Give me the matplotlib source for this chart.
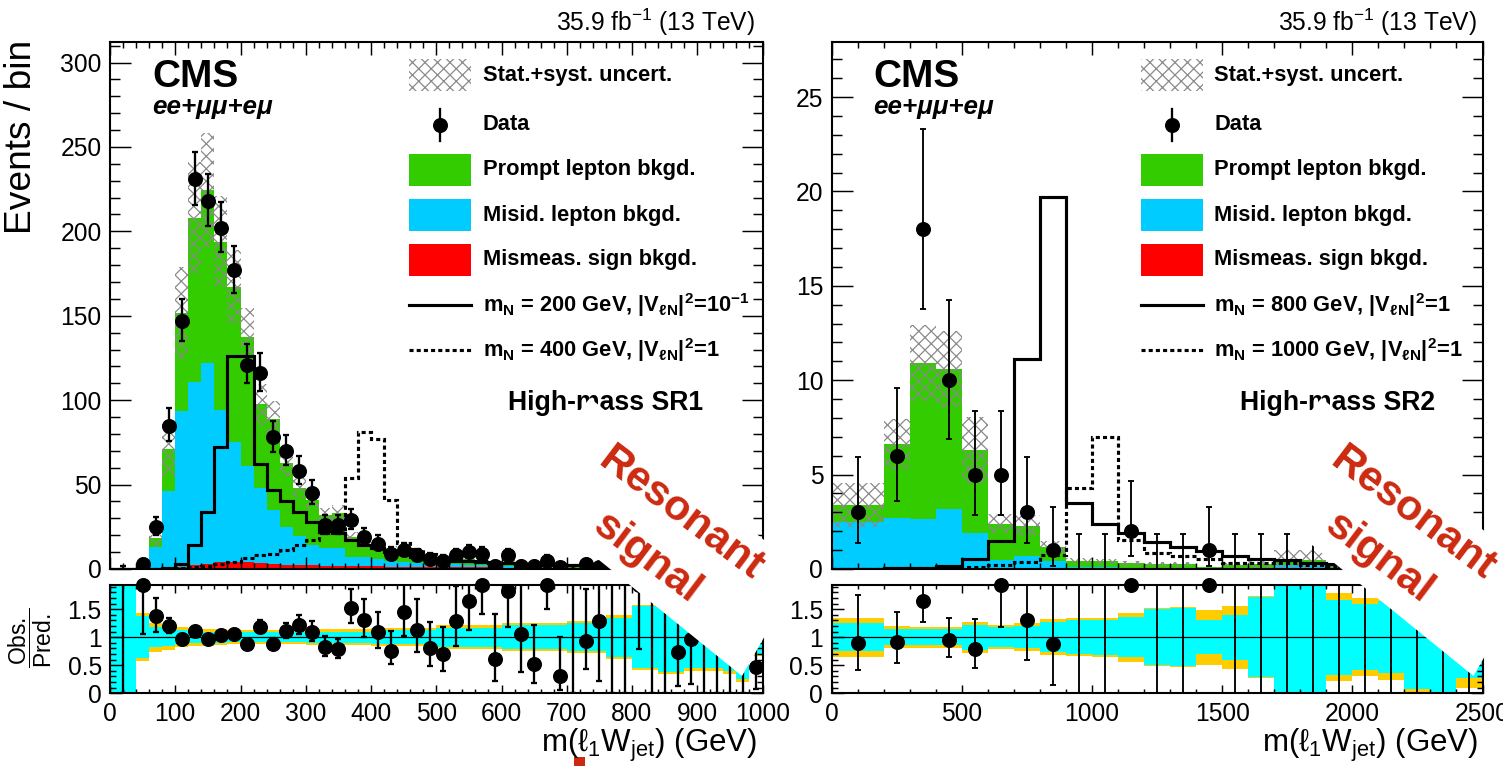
import numpy as np
import matplotlib
matplotlib.use("Agg")
import matplotlib.pyplot as plt
from matplotlib.patches import Rectangle, Polygon
from matplotlib.lines import Line2D
from matplotlib.ticker import MultipleLocator, FuncFormatter

plt.rcParams['font.family'] = ['Liberation Sans', 'DejaVu Sans']
plt.rcParams['mathtext.fontset'] = 'custom'
plt.rcParams['mathtext.rm'] = 'Liberation Sans'
plt.rcParams['mathtext.bf'] = 'Liberation Sans:bold'
plt.rcParams['mathtext.it'] = 'Liberation Sans:italic'
plt.rcParams['mathtext.default'] = 'bf'
plt.rcParams['hatch.linewidth'] = 0.6

# ---------------- high-mass SR1 (left) ----------------
edges_L = [0] + list(range(40, 1001, 20))
data_L = [0, 3, 25, 85, 147, 231, 218, 202, 177, 121, 116, 78, 70, 58, 45, 26, 26, 29, 19, 15,
          9, 11, 8, 6, 5, 8, 10, 9, 2, 8, 2, 2, 5, 1, 0, 3, 1, 0, 0, 2,
          0, 0, 1, 1, 0, 0, 0, 0, 1]
data_dn_L = [0, 1.63, 4.97, 9.21, 12.12, 15.19, 14.76, 14.21, 13.30, 10.99, 10.76, 8.82, 8.35, 7.60, 6.69,
             5.07, 5.07, 5.35, 4.33, 3.85, 2.94, 3.27, 2.77, 2.38, 2.16, 2.77, 3.11, 2.94, 1.29, 2.77,
             1.29, 1.29, 2.16, 0.83, 0, 1.63, 0.83, 0, 0, 1.29, 0, 0, 0.83, 0.83, 0, 0, 0, 0, 0.83]
data_up_L = [1.84, 2.92, 6.06, 10.27, 13.17, 16.24, 15.81, 15.26, 14.35, 12.05, 11.82, 9.88, 9.41, 8.66, 7.76,
             6.16, 6.16, 6.44, 5.41, 4.96, 4.11, 4.42, 3.95, 3.58, 3.38, 3.95, 4.26, 4.11, 2.64, 3.95,
             2.64, 2.64, 3.38, 2.30, 1.84, 2.92, 2.30, 1.84, 1.84, 2.64, 1.84, 1.84, 2.30, 2.30,
             1.84, 1.84, 1.84, 1.84, 2.30]
prompt_L = [0.03, 0.7, 5.3, 24.8, 58.0, 97.0, 102.7, 100.0, 92.0, 76.5, 49.5, 53.6, 38.0, 28.6, 26.7,
            19.4, 20.3, 11.8, 7.6, 7.8, 6.8, 3.6, 3.6, 4.3, 4.1, 3.45, 3.5, 2.1, 1.5, 2.4,
            0.9, 2.0, 0.9, 1.8, 0.4, 1.7, 0.38, 0.4, 0.4, 0.4, 0.4, 0.4, 0.75, 0.53, 0.4, 0.4, 0.4, 0.4, 1.17]
misid_L = [0.02, 0.55, 12.5, 45.2, 92.2, 108.8, 118.8, 90.0, 70.8, 57.0, 44.4, 32.0, 22.4, 17.0, 12.1,
           10.3, 10.8, 5.5, 5.4, 4.5, 3.6, 2.7, 2.3, 2.1, 2.0, 1.8, 1.7, 1.3, 1.0, 1.2,
           0.5, 1.1, 0.5, 0.9, 0.3, 0.9, 0.2, 0.3, 0.3, 0.3, 0.3, 0.3, 0.3, 0.3, 0.3, 0.3, 0.3, 0.3, 0.6]
mismeas_L = [0, 0.05, 0.4, 0.8, 1.3, 2.2, 3.2, 4.0, 4.2, 4.0, 3.6, 3.0, 2.6, 2.4, 2.2,
             2.0, 1.9, 1.7, 1.6, 1.5, 1.4, 1.3, 1.2, 1.1, 1.0, 1.0, 0.9, 0.9, 0.8, 0.8,
             0.5, 0.7, 0.5, 0.6, 0.2, 0.6, 0.2, 0.2, 0.2, 0.2, 0.2, 0.2, 0.3, 0.2, 0.2, 0.2, 0.2, 0.2, 0.4]
stat_L = [1.0, 0.375, 0.18, 0.16, 0.13, 0.11, 0.10, 0.095, 0.09, 0.085, 0.085, 0.085, 0.085, 0.085, 0.1,
          0.1, 0.1, 0.1, 0.1, 0.12, 0.12, 0.12, 0.12, 0.12, 0.17, 0.17, 0.17, 0.17, 0.17, 0.21,
          0.21, 0.21, 0.21, 0.21, 0.25, 0.25, 0.25, 0.35, 0.35, 0.55, 0.55, 0.62, 0.62, 0.55, 0.55,
          0.55, 0.6, 0.75, 0.3]
tot_L = [1.0, 0.425, 0.26, 0.22, 0.18, 0.16, 0.15, 0.14, 0.13, 0.125, 0.125, 0.125, 0.125, 0.125, 0.14,
         0.14, 0.14, 0.14, 0.14, 0.16, 0.16, 0.16, 0.16, 0.16, 0.21, 0.21, 0.21, 0.21, 0.21, 0.25,
         0.25, 0.25, 0.25, 0.25, 0.29, 0.29, 0.29, 0.39, 0.39, 0.58, 0.58, 0.66, 0.66, 0.6, 0.6,
         0.6, 0.65, 0.8, 0.34]
sig200_L = [0, 0, 0, 0.5, 3, 14, 34, 72, 126, 126, 62, 47, 40, 34, 27.6, 22.5, 21.5, 17, 14.3, 12.3,
            10, 8.6, 7, 6, 5.5, 5, 4.5, 4, 3.7, 3.4, 3.1, 2.9, 2.7, 2.5, 2.3, 2.1, 2.0, 1.9, 1.8, 1.7,
            1.6, 1.5, 1.4, 1.3, 1.2, 1.1, 1.0, 1.0, 0.9]
sig400_L = [0, 0, 0, 0, 0.5, 1, 2, 3, 4, 6.7, 8, 9, 11, 14, 17, 21.5, 22, 54, 81, 77,
            41, 15.3, 12, 9, 7, 6, 5, 4.5, 4, 3.5, 3.2, 3, 2.7, 2.5, 2.3, 2.1, 2, 1.9, 1.8, 1.7,
            1.6, 1.5, 1.4, 1.3, 1.2, 1.1, 1.0, 1.0, 0.9]

# ---------------- high-mass SR2 (right) ----------------
edges_R = [0] + list(range(200, 2501, 100))
data_R = [3, 6, 18, 10, 5, 5, 3, 1, 0, 0, 2, 0, 0, 1, 0, 0, 0, 0, 0, 0, 0, 0, 0, 0]
data_dn_R = [1.63, 2.38, 4.22, 3.11, 2.16, 2.16, 1.63, 0.83, 0, 0, 1.29, 0, 0, 0.83,
             0, 0, 0, 0, 0, 0, 0, 0, 0, 0]
data_up_R = [2.92, 3.58, 5.30, 4.26, 3.38, 3.38, 2.92, 2.30, 1.84, 1.84, 2.64, 1.84, 1.84, 2.30,
             1.84, 1.84, 1.84, 1.84, 1.84, 1.84, 1.84, 1.84, 1.84, 1.84]
prompt_R = [0.87, 3.9, 8.25, 7.4, 4.4, 1.9, 1.6, 0.74, 0.35, 0.3, 0.25, 0.2, 0.2, 0.05, 0.15, 0.2,
            0.3, 0.3, 0.15, 0.12, 0.12, 0.08, 0.08, 0.08]
misid_R = [2.45, 2.65, 2.6, 3.15, 1.85, 0.47, 0.67, 0.38, 0.08, 0.08, 0.03, 0.04, 0.04, 0.02, 0.04, 0.04,
           0.19, 0.19, 0.04, 0.02, 0.02, 0.01, 0.01, 0.01]
mismeas_R = [0.05, 0.05, 0.05, 0.05, 0.05, 0.03, 0.03, 0.02, 0.02, 0.02, 0.02, 0.01, 0.01, 0.01, 0.01,
             0.01, 0.01, 0.01, 0.01, 0.01, 0.01, 0.01, 0.01, 0.01]
stat_R = [0.245, 0.14, 0.145, 0.145, 0.225, 0.18, 0.2, 0.27, 0.3, 0.31, 0.36, 0.5, 0.52, 0.3, 0.4, 0.71,
          1.0, 1.0, 0.67, 0.59, 0.64, 0.93, 1.0, 0.73]
tot_R = [0.345, 0.2, 0.185, 0.19, 0.275, 0.215, 0.245, 0.32, 0.335, 0.345, 0.435, 0.52, 0.54, 0.49, 0.56,
         0.73, 1.0, 1.0, 0.78, 0.7, 0.76, 1.0, 1.0, 0.91]
sig800_R = [0.02, 0.03, 0.05, 0.15, 0.55, 1.5, 11.1, 19.7, 3.5, 2.4, 1.93, 1.45, 1.18, 0.96, 0.69, 0.51,
            0.46, 0.34, 0.25, 0.15, 0.1, 0.06, 0.04, 0.03]
sig1000_R = [0.01, 0.03, 0.05, 0.1, 0.12, 0.2, 0.37, 0.74, 4.3, 7.0, 1.55, 0.87, 0.69, 0.51, 0.34, 0.3,
             0.3, 0.2, 0.15, 0.1, 0.08, 0.06, 0.05, 0.04]

W, H = 1503, 771
DPI = 150
fig = plt.figure(figsize=(W / DPI, H / DPI), dpi=DPI)

def fx(px):
    return px / W

def fy(py):
    return 1 - py / H

GREEN, CYAN, RED = '#33cc00', '#00ccff', '#ff0000'
BAND_C, BAND_Y = '#00ffff', '#ffcc00'
HATCH = 'xxxx'
RMAX = 1.93


def step_band(ax, edges, lo, hi, **kw):
    lo = np.append(lo, lo[-1])
    hi = np.append(hi, hi[-1])
    ax.fill_between(edges, lo, hi, step='post', **kw)


def style_axis(ax, xmaj, xmin, ymaj, ymin, ylen, xlen):
    ax.xaxis.set_major_locator(MultipleLocator(xmaj))
    ax.xaxis.set_minor_locator(MultipleLocator(xmin))
    ax.yaxis.set_major_locator(MultipleLocator(ymaj))
    ax.yaxis.set_minor_locator(MultipleLocator(ymin))
    ax.tick_params(which='both', direction='in', top=True, right=True, labelsize=11.8, pad=4, width=0.7)
    ax.tick_params(axis='y', which='major', length=ylen)
    ax.tick_params(axis='y', which='minor', length=ylen / 2)
    ax.tick_params(axis='x', which='major', length=xlen)
    ax.tick_params(axis='x', which='minor', length=xlen / 2)
    for s in ax.spines.values():
        s.set_linewidth(1.0)


def draw_panel(ax, rax, edges, prompt, misid, mismeas, stat, tot, data, dn, up, sig_a, sig_b,
               xmax, ymax, ymaj, ymin, xmaj, xmin, elw):
    edges = np.array(edges, float)
    cen = 0.5 * (edges[1:] + edges[:-1])
    c1 = np.array(mismeas)
    c2 = c1 + np.array(misid)
    total = c2 + np.array(prompt)
    stat = np.array(stat)
    tot = np.array(tot)
    data = np.array(data, float)
    dn = np.array(dn)
    up = np.array(up)

    ax.stairs(c1, edges, fill=True, color=RED, lw=0)
    ax.stairs(c2, edges, baseline=c1, fill=True, color=CYAN, lw=0)
    ax.stairs(total, edges, baseline=c2, fill=True, color=GREEN, lw=0)
    step_band(ax, edges, np.clip(total * (1 - tot), 0, None), total * (1 + tot),
              facecolor='none', edgecolor='#8a8a8a', hatch=HATCH, linewidth=0)
    ax.stairs(sig_a, edges, color='k', lw=1.5)
    ax.stairs(sig_b, edges, color='k', lw=1.5, linestyle=(0, (1.3, 1.0)))
    ax.errorbar(cen, data, yerr=[dn, up], fmt='none', ecolor='k', elinewidth=elw, capsize=1.5,
                capthick=elw)
    m = data > 0
    ax.plot(cen[m], data[m], 'o', color='k', ms=6.2)
    ax.set_xlim(0, xmax)
    ax.set_ylim(0, ymax)
    style_axis(ax, xmaj, xmin, ymaj, ymin, 10, 6)
    ax.tick_params(labelbottom=False)

    # ratio panel
    step_band(rax, edges, 1 - tot, 1 + tot, color=BAND_Y, lw=0)
    step_band(rax, edges, 1 - stat, 1 + stat, color=BAND_C, lw=0)
    rax.axhline(1, color='k', lw=0.6)
    r = data / total
    rax.errorbar(cen, r, yerr=[dn / total, up / total], fmt='none', ecolor='k', elinewidth=elw,
                 capsize=1.5, capthick=elw)
    rax.plot(cen[m], np.minimum(r[m], RMAX), 'o', color='k', ms=6.2, clip_on=False, zorder=5)
    rax.set_xlim(0, xmax)
    rax.set_ylim(0, RMAX)
    style_axis(rax, xmaj, xmin, 0.5, 0.1, 5.6, 4)
    rax.yaxis.set_major_formatter(FuncFormatter(lambda v, _: f'{v:g}'))


axL = fig.add_axes([fx(110), fy(569), fx(762.5) - fx(110), fy(42.3) - fy(569)])
rL = fig.add_axes([fx(110), fy(693.3), fx(762.5) - fx(110), fy(585) - fy(693.3)])
axR = fig.add_axes([fx(831.5), fy(569), fx(1482.5) - fx(831.5), fy(42.3) - fy(569)])
rR = fig.add_axes([fx(831.5), fy(693.3), fx(1482.5) - fx(831.5), fy(585) - fy(693.3)])

draw_panel(axL, rL, edges_L, prompt_L, misid_L, mismeas_L, stat_L, tot_L, data_L, data_dn_L, data_up_L,
           sig200_L, sig400_L, 1000, 312, 50, 10, 100, 20, 1.1)
draw_panel(axR, rR, edges_R, prompt_R, misid_R, mismeas_R, stat_R, tot_R, data_R, data_dn_R, data_up_R,
           sig800_R, sig1000_R, 2500, 27.9, 5, 1, 500, 100, 0.9)

# ---------------- texts and legends ----------------
sig_labels = [
    [r'm$_{\mathbf{N}}$ = 200 GeV, |V$_{\mathbf{ℓN}}$|$^{\mathbf{2}}$=10$^{\mathbf{-1}}$',
     r'm$_{\mathbf{N}}$ = 400 GeV, |V$_{\mathbf{ℓN}}$|$^{\mathbf{2}}$=1'],
    [r'm$_{\mathbf{N}}$ = 800 GeV, |V$_{\mathbf{ℓN}}$|$^{\mathbf{2}}$=1',
     r'm$_{\mathbf{N}}$ = 1000 GeV, |V$_{\mathbf{ℓN}}$|$^{\mathbf{2}}$=1'],
]
regions = ['High-mass SR1', 'High-mass SR2']
rows = [75, 125, 170, 215, 260, 305, 350]
# outline of the white stamp behind "Resonant signal" (pixels, left panel)
stamp_px = [(590, 398), (802, 571), (742, 676), (514, 491)]

for i, dx in enumerate([0, 721.5]):
    fig.text(fx(152 + dx), fy(87), 'CMS', fontsize=18.7, weight='bold', va='baseline')
    fig.text(fx(152 + dx), fy(114), 'ee+μμ+eμ', fontsize=12.5, weight='bold', style='italic',
             va='baseline')
    fig.text(fx(755 + dx), fy(22), r'35.9 fb$^{\mathrm{-1}}$ (13 TeV)', fontsize=11.8,
             ha='right', va='center')
    fig.text(fx(757 + dx), fy(745), r'm(ℓ$_{\mathrm{1}}$W$_{\mathrm{jet}}$) (GeV)', fontsize=15,
             ha='right', va='center')
    fig.text(fx(508 + dx + 10 * i), fy(403), regions[i], fontsize=12.8, weight='bold', va='center')

    hx = 409 + dx + 10 * i
    tx = hx + 74
    labels = ['Stat.+syst. uncert.', 'Data', 'Prompt lepton bkgd.', 'Misid. lepton bkgd.',
              'Mismeas. sign bkgd.'] + sig_labels[i]
    fig.add_artist(Rectangle((fx(hx), fy(rows[0] + 16)), fx(62), fy(0) - fy(32),
                             transform=fig.transFigure, facecolor='none', edgecolor='#8a8a8a',
                             hatch=HATCH, linewidth=0))
    fig.add_artist(Line2D([fx(hx + 31)] * 2, [fy(rows[1] - 16), fy(rows[1] + 16)],
                          transform=fig.transFigure, color='k', lw=1.1))
    fig.add_artist(Line2D([fx(hx + 31)], [fy(rows[1])], transform=fig.transFigure, color='k',
                          marker='o', ms=6.2))
    for j, c in zip([2, 3, 4], [GREEN, CYAN, RED]):
        fig.add_artist(Rectangle((fx(hx), fy(rows[j] + 16)), fx(62), fy(0) - fy(32),
                                 transform=fig.transFigure, color=c, lw=0))
    fig.add_artist(Line2D([fx(hx), fx(hx + 62)], [fy(rows[5])] * 2, transform=fig.transFigure,
                          color='k', lw=1.5))
    fig.add_artist(Line2D([fx(hx), fx(hx + 62)], [fy(rows[6])] * 2, transform=fig.transFigure,
                          color='k', lw=1.5, linestyle=(0, (1.3, 1.0))))
    for j, lab in enumerate(labels):
        fig.text(fx(tx), fy(rows[j]), lab, fontsize=10.5, weight='bold', va='center')

    # white stamp with the red "Resonant signal" label
    bx = dx + 10 * i
    fig.add_artist(Polygon([(fx(px + bx), fy(py)) for px, py in stamp_px], closed=True,
                           transform=fig.transFigure, facecolor='white', edgecolor='none',
                           zorder=9))
    fig.text(fx(664 + bx), fy(536), 'Resonant\nsignal', fontsize=20.5, weight='bold',
             color='#cc2a10', rotation=-37, rotation_mode='anchor', ha='center', va='center',
             multialignment='center', linespacing=1.5, zorder=10)

fig.add_artist(Rectangle((fx(574), fy(766)), fx(11), fy(0) - fy(9), transform=fig.transFigure,
                         color='#cc2a10', lw=0))
fig.text(fx(22), fy(40), 'Events / bin', fontsize=17.8, rotation=90, ha='center', va='top')
fig.text(fx(30), fy(638), r'$\dfrac{\mathrm{Obs.}}{\mathrm{Pred.}}$', fontsize=11, rotation=90,
         ha='center', va='center')

fig.savefig('out.png', dpi=DPI)
